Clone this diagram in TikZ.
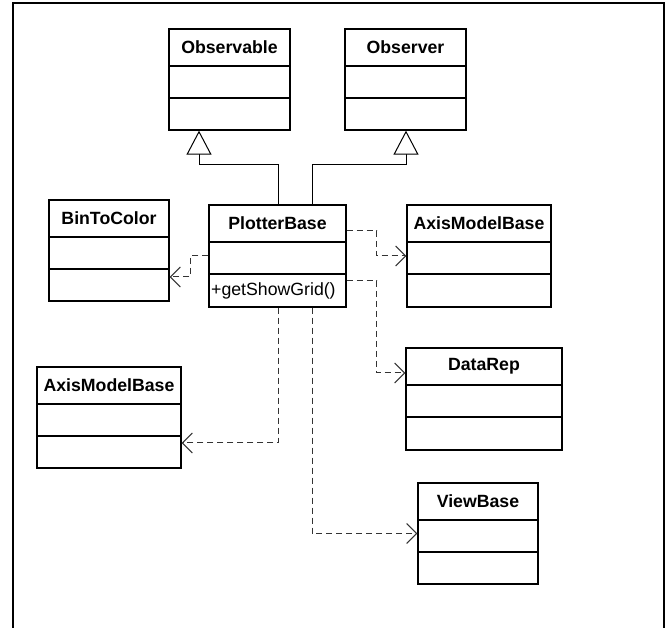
\documentclass[tikz,border=0pt]{standalone}
\usepackage{fontspec}
\setmainfont{Liberation Sans}
\usetikzlibrary{arrows.meta,calc}

\tikzset{
  classbox/.style={draw=black, line width=1.3pt, fill=white, inner sep=0pt, rectangle},
  classtitle/.style={font=\fontsize{17.7}{20}\selectfont\bfseries, inner sep=0pt, anchor=center},
  member/.style={font=\fontsize{17.7}{20}\selectfont, inner sep=0pt, anchor=west},
  divider/.style={line width=1.3pt, black},
  generalization/.style={line width=1pt, black, -{Triangle[open, length=24pt, width=25pt, fill=white, line width=1pt]}},
  dependency/.style={line width=1pt, black!80, dash pattern=on 6pt off 4pt, -{Straight Barb[length=10pt, width=20pt, line width=1pt]}},
  frame/.style={line width=2pt, black}
}

% \umlclass{name}{left}{top}{right}{bottom}{title}
\newcommand\umlclass[6]{%
  \node[classbox, minimum width={#4-#2}, minimum height={#5-#3}]
    (#1) at ({(#2+#4)/2},{(#3+#5)/2}) {};
  \draw[divider] (#2,#3+37) -- (#4,#3+37);
  \draw[divider] (#2,#3+69) -- (#4,#3+69);
  \node[classtitle] (#1-title) at ({(#2+#4)/2},#3+18.5) {#6};
}

\begin{document}
\begin{tikzpicture}[x=1pt, y=-1pt]
  \useasboundingbox (0,0) rectangle (670,628);
  \clip (0,0) rectangle (670,628);
  \fill[white] (0,0) rectangle (670,628);

  % outer frame, open at the bottom edge of the page
  \draw[frame] (13,700) -- (13,3) -- (664,3) -- (664,700);

  % classes
  \umlclass{observable}{169}{29}{290}{130}{Observable}
  \umlclass{observer}{345}{29}{466}{130}{Observer}
  \umlclass{bintocolor}{49}{200}{169}{301}{BinToColor}
  \umlclass{plotter}{209}{205}{346}{307}{PlotterBase}
  \umlclass{axisright}{407}{205}{551}{307}{AxisModelBase}
  \umlclass{datarep}{406}{348}{562}{450}{DataRep}
  \umlclass{axisleft}{37}{367}{181}{468}{AxisModelBase}
  \umlclass{viewbase}{418}{483}{538}{584}{ViewBase}

  \node[member] (showgrid) at (211,290.5) {+getShowGrid()};

  % inheritance
  \draw[generalization] ($(plotter.north)+(0.5,0)$) -- ++(0,-40)
        -| ($(observable.south)+(-30.5,0)$);
  \draw[generalization] ($(plotter.north)+(34.5,0)$) -- ++(0,-40)
        -| ($(observer.south)+(0.5,0)$);

  % dependencies
  \draw[dependency] (plotter.west) -- ++(-18,0)
        |- ($(bintocolor.east)+(0,26.5)$);
  \draw[dependency] ($(plotter.east)+(0,-25)$) -- ++(30,0)
        |- (axisright.west);
  \draw[dependency] ($(plotter.east)+(0,25)$) -- ++(30,0)
        |- ($(datarep.west)+(0,-26)$);
  \draw[dependency] ($(plotter.south)+(0.5,0)$) |- ($(axisleft.east)+(0,25.5)$);
  \draw[dependency] ($(plotter.south)+(34.5,0)$) |- (viewbase.west);
\end{tikzpicture}
\end{document}
